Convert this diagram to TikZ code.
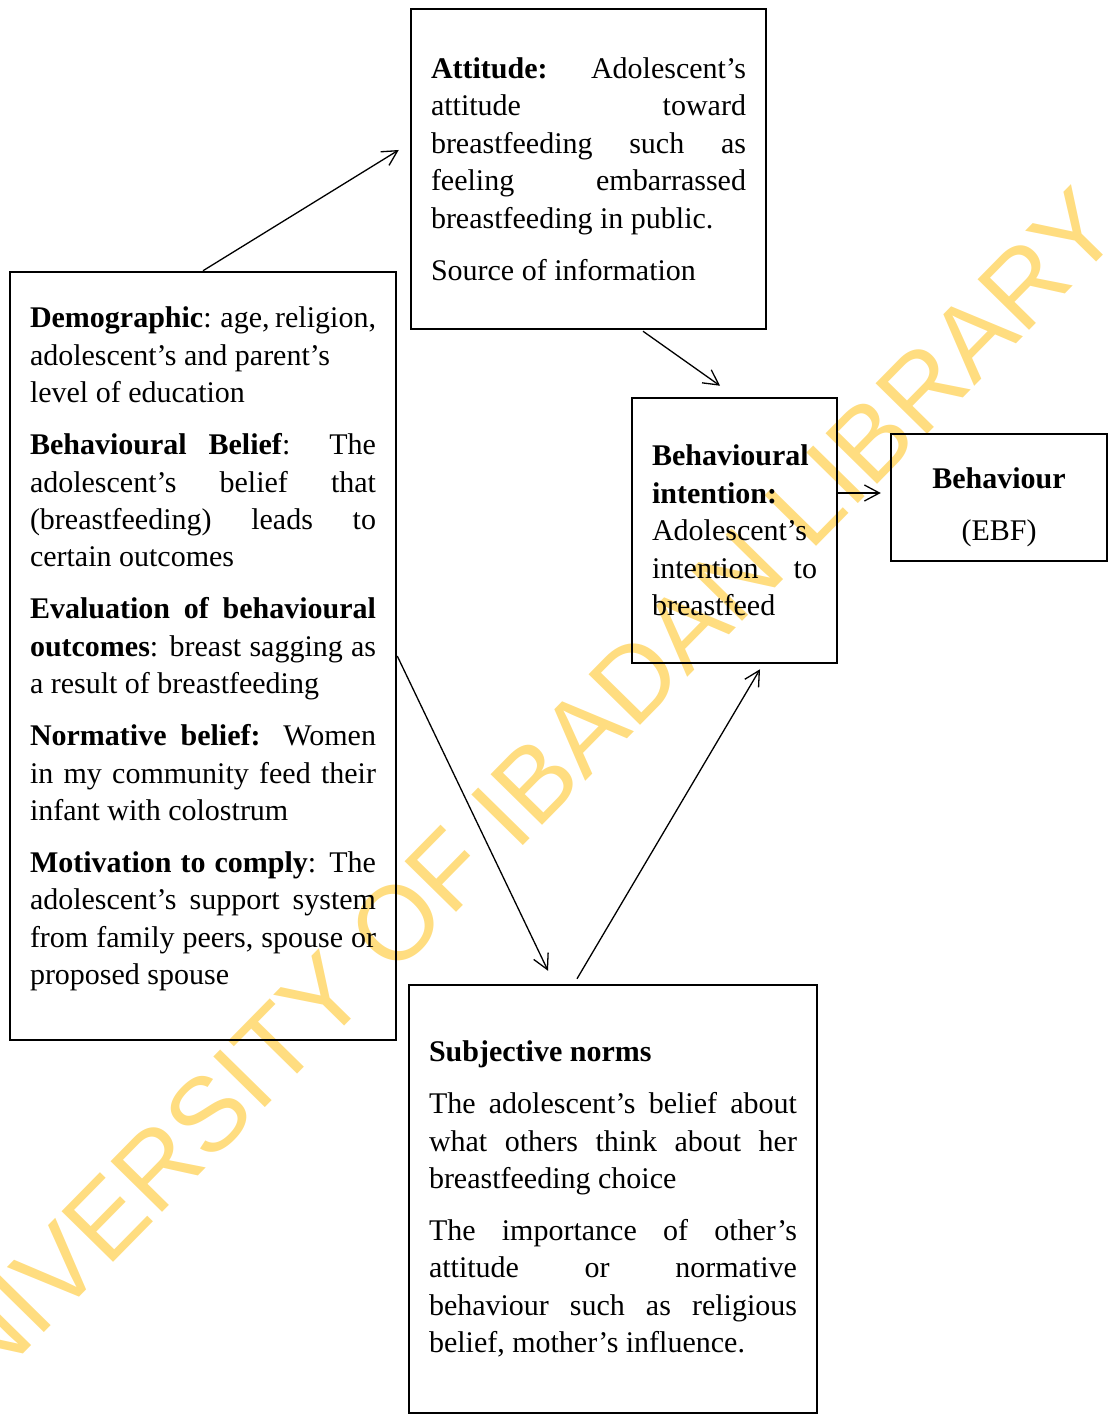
\documentclass[tikz,border=0pt]{standalone}
\usepackage{fontspec}
\setmainfont{Liberation Serif}
\newfontfamily\markfont{Liberation Sans}
\usepackage{tikz}
\usetikzlibrary{arrows.meta}
\definecolor{libyellow}{RGB}{255, 221, 128}
\newcommand{\diagfont}{\fontsize{15pt}{18.7pt}\selectfont}
\newcommand{\paragap}{\par\vspace{7.3pt}}
\hyphenpenalty=10000

\begin{document}
\begin{tikzpicture}[
  x=0.5pt, y=-0.5pt,
  font=\diagfont,
  box/.style={rectangle, draw=black, line width=1.25pt, inner xsep=10pt,
    inner ysep=0pt, align=justify},
  arr/.style={-{Straight Barb[length=7.5pt, width=8pt]}, line width=0.65pt},
  wmark/.style={text=libyellow, rotate=45.5, inner sep=0pt,
    font=\markfont\fontsize{52.5pt}{60pt}\selectfont}
]
\useasboundingbox (0,0) rectangle (1112,1416);

\node[wmark] (wm) at (502,815) {UNIVERSITY OF IBADAN LIBRARY};

\node[box, text width=157.5pt, minimum height=160pt] (att) at (588.5,169)
  {\textbf{Attitude:} Adolescent's\linebreak attitude toward\linebreak
   breastfeeding such as\linebreak feeling embarrassed\linebreak
   breastfeeding in public.\paragap Source of information};

\node[box, text width=173pt, minimum height=384pt] (demo) at (203,656)
  {\textbf{Demographic}: age, religion,\newline adolescent's and parent's\newline
   level of education\paragap
   \textbf{Behavioural Belief}: The\linebreak adolescent's belief that\linebreak
   (breastfeeding) leads to\linebreak certain outcomes\paragap
   \textbf{Evaluation of behavioural}\linebreak \textbf{outcomes}: breast sagging as\linebreak
   a result of breastfeeding\paragap
   \textbf{Normative belief:} Women\linebreak in my community feed their\linebreak
   infant with colostrum\paragap
   \textbf{Motivation to comply}: The\linebreak adolescent's support system\linebreak
   from family peers, spouse or\linebreak proposed spouse\par\kern7pt};

\node[box, text width=82.5pt, minimum height=132.5pt] (intent) at (734.5,530.5)
  {\textbf{Behavioural}\newline \textbf{intention:}\newline Adolescent's\newline
   intention to\linebreak breastfeed};

\node[box, text width=88pt, minimum height=63.5pt, align=center] (behav) at (999,497.5)
  {\rule{0pt}{20pt}\textbf{Behaviour}\paragap (EBF)};

\node[box, text width=184pt, minimum height=214pt] (subj) at (613,1199)
  {\textbf{Subjective norms}\paragap
   The adolescent's belief about\linebreak what others think about her\linebreak
   breastfeeding choice\paragap
   The importance of other's\linebreak attitude or normative\linebreak
   behaviour such as religious\linebreak belief, mother's influence.};

\draw[arr] (demo.north) -- ([shift={(-11,-19)}]att.west);
\draw[arr] ([shift={(54.5,1)}]att.south) -- ([shift={(-14.5,-11)}]intent.north);
\draw[arr] ([shift={(0,-37.5)}]intent.east) -- ([shift={(-9,-4.5)}]behav.west);
\draw[arr] (demo.east) -- ([shift={(-65,-13)}]subj.north);
\draw[arr] ([shift={(-36,-5)}]subj.north) -- ([shift={(25.5,5)}]intent.south);

\end{tikzpicture}
\end{document}
